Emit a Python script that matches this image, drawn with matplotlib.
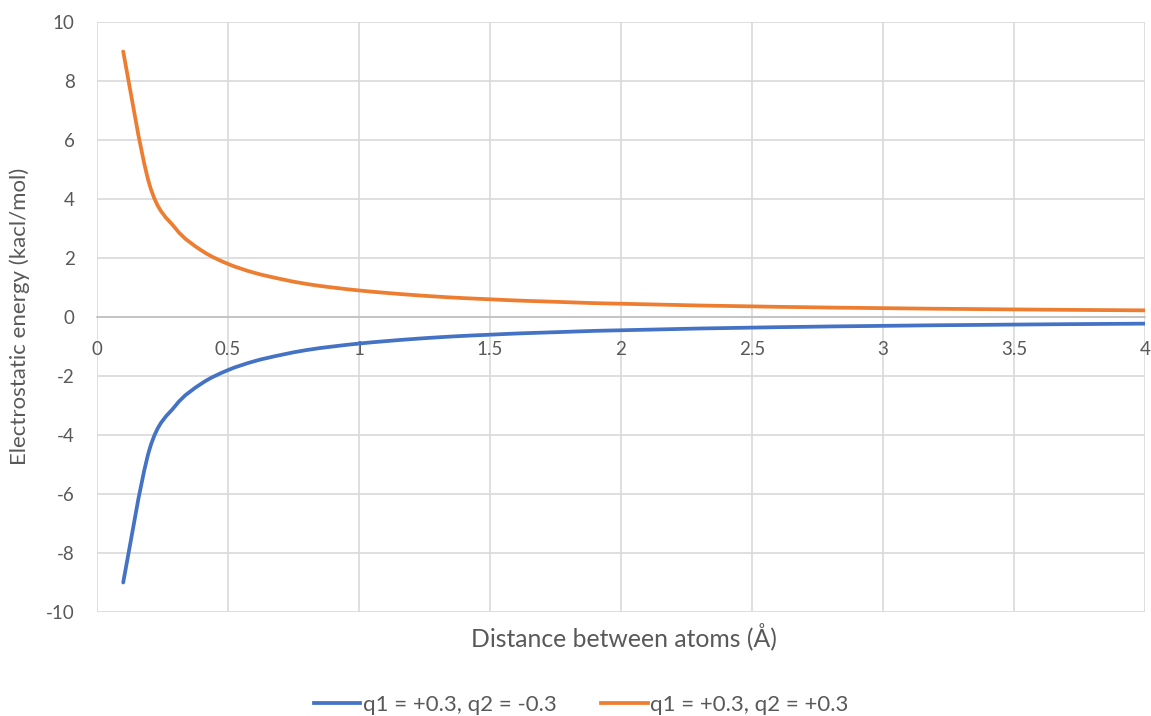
#importing packages
import matplotlib.pyplot as plt
import numpy as np
from matplotlib.path import Path
from matplotlib.patches import PathPatch
from matplotlib.lines import Line2D

plt.rcParams['font.family'] = ['Lato', 'DejaVu Sans']
plt.rcParams['axes.unicode_minus'] = False

#distance between the two atoms (angstrom)
distance = [0.1, 0.2, 0.3, 0.4, 0.5, 0.6, 0.7, 0.8, 0.9, 1.0,
            1.1, 1.2, 1.3, 1.4, 1.5, 1.6, 1.7, 1.8, 1.9, 2.0,
            2.1, 2.2, 2.3, 2.4, 2.5, 2.6, 2.7, 2.8, 2.9, 3.0,
            3.1, 3.2, 3.3, 3.4, 3.5, 3.6, 3.7, 3.8, 3.9, 4.0]
#energy, like charges (kcal/mol)
energyLike = [9.0, 4.5, 3.0, 2.25, 1.8, 1.5, 1.29, 1.12, 1.0, 0.9,
              0.82, 0.75, 0.69, 0.64, 0.6, 0.56, 0.53, 0.5, 0.47, 0.45,
              0.43, 0.41, 0.39, 0.375, 0.36, 0.345, 0.333, 0.32, 0.31, 0.3,
              0.29, 0.28, 0.273, 0.265, 0.257, 0.25, 0.243, 0.237, 0.231, 0.225]
#opposite charges
energyOpposite = [-v for v in energyLike]

labelOpposite = 'q1 = +0.3, q2 = -0.3'
labelLike = 'q1 = +0.3, q2 = +0.3'
blue = '#4472C4'
orange = '#ED7D31'

#excel style smoothed line: bezier segments through the data points
def smoothLine(ax, x, y, color, lw):
    pts = list(zip(x, y))
    verts = [pts[0]]
    codes = [Path.MOVETO]
    n = len(pts)
    for i in range(n - 1):
        p0 = pts[max(i - 1, 0)]
        p1 = pts[i]
        p2 = pts[i + 1]
        p3 = pts[min(i + 2, n - 1)]
        c1 = (p1[0] + (p2[0] - p0[0]) / 6, p1[1] + (p2[1] - p0[1]) / 6)
        c2 = (p2[0] - (p3[0] - p1[0]) / 6, p2[1] - (p3[1] - p1[1]) / 6)
        verts += [c1, c2, p2]
        codes += [Path.CURVE4] * 3
    patch = PathPatch(Path(verts, codes), facecolor='none', edgecolor=color,
                      lw=lw, capstyle='round', joinstyle='round', zorder=3)
    ax.add_patch(patch)

fig = plt.figure(figsize=(11.51, 7.16), dpi=100)
ax = fig.add_axes([97/1151, 1-612/716, (1145-97)/1151, (612-22)/716])

smoothLine(ax, distance, energyOpposite, blue, 2.7)
smoothLine(ax, distance, energyLike, orange, 2.7)

ax.set_xlim(0, 4)
ax.set_ylim(-10, 10)
ax.set_xticks(np.arange(0, 4.01, 0.5))
ax.set_xticklabels(['0', '0.5', '1', '1.5', '2', '2.5', '3', '3.5', '4'])
ax.set_yticks(np.arange(-10, 10.1, 2))
ax.grid(True, color='#d9d9d9', lw=1.2)
ax.set_axisbelow(True)
for s in ['top', 'right', 'left']:
    ax.spines[s].set_visible(False)
ax.spines['bottom'].set_position(('data', 0))
ax.spines['bottom'].set_color('#bfbfbf')
ax.spines['bottom'].set_linewidth(1.2)
ax.tick_params(length=0, labelsize=13.5, labelcolor='#595959')
ax.tick_params(axis='y', pad=16)
ax.tick_params(axis='x', pad=17)

fig.text(20/1151, 1-316/716, 'Electrostatic energy (kacl/mol)', fontsize=16,
         color='#595959', ha='center', va='center', rotation=90)
fig.text(624/1151, 1-636/716, 'Distance between atoms (Å)', fontsize=17.8,
         color='#595959', ha='center', va='center')

handles = [Line2D([], [], color=blue, lw=2.7), Line2D([], [], color=orange, lw=2.7)]
fig.legend(handles=handles, labels=[labelOpposite, labelLike], loc='center',
           bbox_to_anchor=(581/1151, 1-705/716), ncol=2, frameon=False,
           fontsize=16, labelcolor='#595959', handlelength=2.1,
           handletextpad=0.1, columnspacing=2.0)

plt.savefig('out.png', dpi=100)
